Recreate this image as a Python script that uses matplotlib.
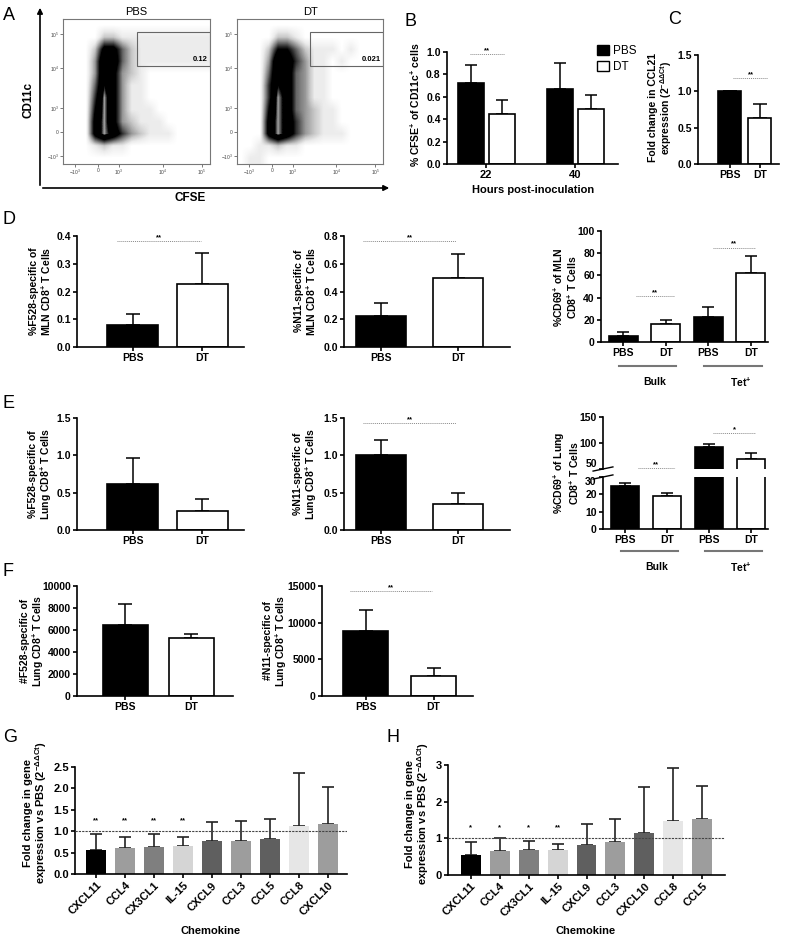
import numpy as np
import matplotlib
matplotlib.use("Agg")
import matplotlib.pyplot as plt
from matplotlib.colors import LinearSegmentedColormap
from matplotlib.patches import Rectangle, Patch, FancyArrowPatch
from matplotlib.ticker import FormatStrFormatter

# ---------------- data ----------------
groups = ["PBS", "DT"]

# A: flow density (rows top->bottom, cols left->right, 0 empty .. 10 contour core)
flow_pbs = [
    [0, 0, 0, 0, 0, 0, 0, 0, 0, 0, 0, 0, 0, 0, 0, 0],
    [0, 0, 0, 0, 2, 2, 1, 1, 1, 1, 1, 1, 1, 1, 1, 1],
    [0, 0, 0, 2, 7, 7, 4, 2, 1, 1, 1, 1, 1, 1, 1, 1],
    [0, 0, 0, 3, 9, 8, 4, 2, 1, 1, 1, 1, 1, 1, 1, 1],
    [0, 0, 0, 3, 9, 7, 3, 2, 1, 0, 0, 0, 0, 0, 0, 0],
    [0, 0, 0, 4, 9, 7, 3, 1, 1, 0, 0, 0, 0, 0, 0, 0],
    [0, 0, 0, 5, 10, 7, 3, 1, 1, 0, 0, 0, 0, 0, 0, 0],
    [0, 0, 0, 6, 10, 7, 3, 1, 1, 1, 0, 0, 0, 0, 0, 0],
    [0, 0, 0, 7, 10, 7, 3, 2, 1, 1, 1, 0, 0, 0, 0, 0],
    [0, 0, 0, 7, 10, 8, 5, 3, 2, 1, 1, 1, 0, 0, 0, 0],
    [0, 0, 0, 1, 2, 1, 1, 0, 0, 0, 0, 0, 0, 0, 0, 0],
    [0, 0, 0, 0, 0, 0, 0, 0, 0, 0, 0, 0, 0, 0, 0, 0],
]
flow_dt = [
    [0, 0, 0, 0, 0, 0, 0, 0, 0, 0, 0, 0, 0, 0, 0, 0],
    [0, 0, 0, 0, 2, 2, 1, 0, 0, 0, 0, 0, 0, 0, 0, 0],
    [0, 0, 0, 2, 6, 6, 4, 2, 1, 1, 1, 0, 1, 0, 0, 0],
    [0, 0, 0, 3, 9, 8, 5, 3, 1, 1, 0, 1, 0, 0, 0, 0],
    [0, 0, 0, 4, 9, 8, 4, 3, 1, 1, 0, 0, 0, 0, 0, 0],
    [0, 0, 0, 5, 9, 8, 4, 3, 1, 1, 0, 0, 0, 0, 0, 0],
    [0, 0, 0, 5, 10, 8, 4, 3, 1, 1, 0, 0, 0, 0, 0, 0],
    [0, 0, 0, 6, 10, 8, 4, 3, 2, 1, 1, 0, 0, 0, 0, 0],
    [0, 0, 0, 7, 10, 8, 5, 3, 2, 1, 1, 0, 0, 0, 0, 0],
    [0, 0, 0, 7, 10, 8, 5, 3, 2, 1, 1, 1, 0, 0, 0, 0],
    [0, 0, 1, 1, 2, 1, 1, 0, 0, 0, 0, 0, 0, 0, 0, 0],
    [0, 1, 1, 0, 0, 0, 0, 0, 0, 0, 0, 0, 0, 0, 0, 0],
]
gate_pct = ["0.12", "0.021"]
flow_x_labels = ["$-10^3$", "0", "$10^3$", "$10^4$", "$10^5$"]
flow_y_labels = ["$-10^3$", "0", "$10^3$", "$10^4$", "$10^5$"]

# B
b_hours = ["22", "40"]
b_pbs = [0.72, 0.67]
b_pbs_sem = [0.16, 0.23]
b_dt = [0.45, 0.49]
b_dt_sem = [0.12, 0.13]

# C
c_vals = [1.0, 0.63]
c_sem = [0.0, 0.20]

# D (MLN)
d_f528 = [0.078, 0.226]
d_f528_sem = [0.040, 0.112]
d_n11 = [0.22, 0.50]
d_n11_sem = [0.095, 0.17]
cd69_labels = ["PBS", "DT", "PBS", "DT"]
d_cd69 = [5.7, 16.4, 22.4, 61.8]
d_cd69_sem = [3.0, 3.0, 8.8, 15.5]

# E (lung)
e_f528 = [0.61, 0.26]
e_f528_sem = [0.35, 0.15]
e_n11 = [1.01, 0.35]
e_n11_sem = [0.20, 0.14]
e_cd69 = [24.7, 19.1, 92.0, 69.0]
e_cd69_sem = [1.9, 1.9, 6.0, 12.0]

# F (lung numbers)
f_f528 = [6430, 5230]
f_f528_sem = [1900, 450]
f_n11 = [8840, 2720]
f_n11_sem = [2850, 1040]

# G / H chemokines
g_genes = ["CXCL11", "CCL4", "CX3CL1", "IL-15", "CXCL9", "CCL3", "CCL5", "CCL8", "CXCL10"]
g_vals = [0.55, 0.60, 0.62, 0.65, 0.77, 0.78, 0.81, 1.12, 1.16]
g_sem = [0.38, 0.27, 0.31, 0.22, 0.44, 0.46, 0.47, 1.25, 0.88]
g_sig = ["**", "**", "**", "**", "", "", "", "", ""]

h_genes = ["CXCL11", "CCL4", "CX3CL1", "IL-15", "CXCL9", "CCL3", "CXCL10", "CCL8", "CCL5"]
h_vals = [0.55, 0.65, 0.68, 0.68, 0.82, 0.91, 1.14, 1.47, 1.52]
h_sem = [0.35, 0.37, 0.25, 0.16, 0.56, 0.61, 1.27, 1.46, 0.91]
h_sig = ["*", "*", "*", "**", "", "", "", "", ""]

gene_colors = ["#000000", "#9d9d9d", "#7f7f7f", "#d5d5d5", "#5f5f5f",
               "#9d9d9d", "#5f5f5f", "#e6e6e6", "#9d9d9d"]

# ---------------- style ----------------
plt.rcParams["font.family"] = ["Liberation Sans", "DejaVu Sans"]
plt.rcParams["font.weight"] = "bold"
plt.rcParams["axes.labelweight"] = "bold"
plt.rcParams["mathtext.default"] = "regular"

W, H = 800, 943
fig = plt.figure(figsize=(8, 9.43), dpi=100)


def add_ax(left, top, right, bottom):
    return fig.add_axes([left / W, 1 - bottom / H, (right - left) / W, (bottom - top) / H])


def fxy(x, y):
    return (x / W, 1 - y / H)


def prism(ax, size=7.5):
    for s in ["top", "right"]:
        ax.spines[s].set_visible(False)
    for s in ["left", "bottom"]:
        ax.spines[s].set_linewidth(1.2)
    ax.tick_params(width=1.2, length=3, labelsize=size, pad=1.5)


def bars(ax, pos, vals, sems, colors, width, cap):
    ax.bar(pos, vals, width, color=colors, edgecolor="black", linewidth=1.2, zorder=2)
    ax.errorbar(pos, vals, yerr=[np.zeros(len(vals)), sems], fmt="none", ecolor="black",
                elinewidth=1.1, capsize=cap, capthick=1.1, zorder=1)


def sig(ax, x0, x1, y, text, size=5.5):
    ax.plot([x0, x1], [y, y], ls=(0, (1, 1)), color="#8a8a8a", lw=0.7, clip_on=False)
    ax.text((x0 + x1) / 2, y, text, ha="center", va="bottom", fontsize=size, clip_on=False)


def ylab(ax, text, x, y, size=7.5):
    ax.set_ylabel(text, fontsize=size, va="center", ha="center", linespacing=1.05)
    ax.yaxis.set_label_coords(x / W, 1 - y / H, transform=fig.transFigure)


def letter(s, x, y):
    fig.text(x / W, 1 - y / H, s, fontsize=13, fontweight="normal", va="center", ha="left")


def pair(ax, vals, sems, geom, ylim, yticks, fmt, sig_y=None, sig_text="**"):
    width, x0, x1 = geom
    pos = np.arange(len(vals))
    bars(ax, pos, vals, sems, ["black", "white"], width, 5.2)
    ax.set_xlim(x0, x1)
    ax.set_ylim(*ylim)
    ax.set_yticks(yticks)
    ax.yaxis.set_major_formatter(FormatStrFormatter(fmt))
    ax.set_xticks(pos)
    ax.set_xticklabels(groups)
    prism(ax)
    if sig_y is not None:
        sig(ax, pos[0] - 0.23, pos[1] - 0.02, sig_y, sig_text)
    return pos


# ---------------- A: flow plots ----------------
flow_cmap = LinearSegmentedColormap.from_list(
    "flow", [(0, "white"), (0.1, "#ececec"), (0.2, "#c8c8c8"), (0.35, "#808080"),
             (0.5, "#303030"), (0.6, "black"), (0.9, "black"), (1.0, "#a0a0a0")])
flow_x_pos = [0.082, 0.238, 0.381, 0.68, 0.946]
flow_y_pos = [0.055, 0.221, 0.386, 0.662, 0.897]

for name, grid, pct, (l, r) in [("PBS", flow_pbs, gate_pct[0], (63, 210)),
                                ("DT", flow_dt, gate_pct[1], (237, 383))]:
    ax = add_ax(l, 19, r, 164)
    ax.imshow(np.array(grid, dtype=float), cmap=flow_cmap, vmin=0, vmax=10,
              extent=(0, 1, 0, 1), origin="upper", aspect="auto", interpolation="bilinear")
    ax.set_xlim(0, 1)
    ax.set_ylim(0, 1)
    ax.add_patch(Rectangle((0.5, 0.676), 0.5, 0.234, fill=False, ec="#666666", lw=0.8))
    ax.text(0.985, 0.695, pct, ha="right", va="bottom", fontsize=5.5)
    ax.set_title(name, fontsize=8, pad=3)
    ax.set_xticks(flow_x_pos)
    ax.set_xticklabels(flow_x_labels)
    ax.set_yticks(flow_y_pos)
    ax.set_yticklabels(flow_y_labels)
    ax.tick_params(length=2, width=0.5, labelsize=3.5, pad=1, colors="#444444")
    for lab in ax.get_xticklabels() + ax.get_yticklabels():
        lab.set_fontweight("normal")
    for s in ax.spines.values():
        s.set_color("#777777")
        s.set_linewidth(0.8)

fig.add_artist(FancyArrowPatch(fxy(40, 188), fxy(40, 5), transform=fig.transFigure,
                               arrowstyle="-|>", mutation_scale=8, lw=1.2, color="black"))
fig.add_artist(FancyArrowPatch(fxy(40, 188), fxy(392, 188), transform=fig.transFigure,
                               arrowstyle="-|>", mutation_scale=8, lw=1.2, color="black"))
fig.text(28 / W, 1 - 100 / H, "CD11c", rotation=90, fontsize=8.5, ha="center", va="center")
fig.text(190 / W, 1 - 198 / H, "CFSE", fontsize=8.5, ha="center", va="center")

# ---------------- B ----------------
ax = add_ax(447, 52, 618, 164)
centers = np.arange(len(b_hours))
bars(ax, centers - 0.175, b_pbs, b_pbs_sem, "black", 0.29, 4.5)
bars(ax, centers + 0.175, b_dt, b_dt_sem, "white", 0.29, 4.5)
ax.set_xlim(-0.44, 1.48)
ax.set_ylim(0, 1.0)
ax.set_yticks(np.arange(0, 1.01, 0.2))
ax.yaxis.set_major_formatter(FormatStrFormatter("%.1f"))
ax.set_xticks(centers)
ax.set_xticklabels(b_hours)
prism(ax)
ax.tick_params(axis="x", labelsize=8)
sig(ax, centers[0] - 0.18, centers[0] + 0.2, 0.98, "**")
ax.set_xlabel("Hours post-inoculation", fontsize=8, va="center")
ax.xaxis.set_label_coords(533 / W, 1 - 190 / H, transform=fig.transFigure)
ylab(ax, "% CFSE$^{+}$ of CD11c$^{+}$ cells", 415, 105)
ax.legend(handles=[Patch(fc="black", ec="black", label="PBS"),
                   Patch(fc="white", ec="black", label="DT")],
          loc="upper left", bbox_to_anchor=fxy(592, 40), bbox_transform=fig.transFigure,
          frameon=False, prop={"size": 8.5, "weight": "normal"}, handlelength=1.0,
          handleheight=1.0, handletextpad=0.4, labelspacing=0.3, borderaxespad=0)

# ---------------- C ----------------
ax = add_ax(698, 55, 779, 164)
pos = np.arange(len(c_vals))
bars(ax, pos, c_vals, c_sem, ["black", "white"], 0.77, 4.8)
ax.set_xlim(-1.05, 1.64)
ax.set_ylim(0, 1.5)
ax.set_yticks([0, 0.5, 1.0, 1.5])
ax.yaxis.set_major_formatter(FormatStrFormatter("%.1f"))
ax.set_xticks(pos)
ax.set_xticklabels(groups)
prism(ax)
sig(ax, pos[0] + 0.12, pos[1] + 0.28, 1.18, "**")
ylab(ax, "Fold change in CCL21\nexpression (2$^{-\\Delta\\Delta Ct}$)", 661, 108)


# ---------------- CD69 helper ----------------
def cd69_axes(ax, vals, sems):
    pos = np.arange(len(vals))
    bars(ax, pos, vals, sems, ["black", "white", "black", "white"], 0.68, 4.3)
    ax.set_xlim(-0.52, 3.40)
    ax.set_xticks(pos)
    ax.set_xticklabels(cd69_labels)
    prism(ax)
    return pos


def group_lines(ax, pos, y_axes, y_text):
    tr = ax.get_xaxis_transform()
    for (a, b), lab in [((pos[0], pos[1]), "Bulk"), ((pos[2], pos[3]), "Tet$^{+}$")]:
        ax.plot([a - 0.1, b + 0.25], [y_axes, y_axes], color="#777777", lw=1.5,
                transform=tr, clip_on=False)
        ax.text((a + b) / 2 + 0.25, y_text, lab, transform=tr, ha="center", va="center",
                fontsize=7.5)


col1 = (0.73, -0.80, 1.60)
col2 = (0.66, -0.48, 1.675)

# ---------------- D ----------------
ax = add_ax(77, 236, 244, 347)
pair(ax, d_f528, d_f528_sem, col1, (0, 0.4), np.arange(0, 0.41, 0.1), "%.1f", 0.382)
ylab(ax, "%F528-specific of\nMLN CD8$^{+}$ T Cells", 41, 291)

ax = add_ax(344, 236, 510, 347)
pair(ax, d_n11, d_n11_sem, col2, (0, 0.8), np.arange(0, 0.81, 0.2), "%.1f", 0.764)
ylab(ax, "%N11-specific of\nMLN CD8$^{+}$ T Cells", 306, 291)

ax = add_ax(601, 231, 768, 342)
pos = cd69_axes(ax, d_cd69, d_cd69_sem)
ax.set_ylim(0, 100)
ax.set_yticks(np.arange(0, 101, 20))
sig(ax, pos[0] + 0.3, pos[1] + 0.2, 41, "**")
sig(ax, pos[2] + 0.1, pos[3] + 0.1, 85, "**")
group_lines(ax, pos, (342 - 366) / 111, (342 - 382) / 111)
ylab(ax, "%CD69$^{+}$ of MLN\nCD8$^{+}$ T Cells", 565, 287)

# ---------------- E ----------------
ax = add_ax(77, 418, 244, 530)
pair(ax, e_f528, e_f528_sem, col1, (0, 1.5), [0, 0.5, 1.0, 1.5], "%.1f")
ylab(ax, "%F528-specific of\nLung CD8$^{+}$ T Cells", 41, 474)

ax = add_ax(344, 418, 510, 530)
pair(ax, e_n11, e_n11_sem, col2, (0, 1.5), [0, 0.5, 1.0, 1.5], "%.1f", 1.43)
ylab(ax, "%N11-specific of\nLung CD8$^{+}$ T Cells", 306, 474)

ax_lo = add_ax(603, 477, 768, 529)
pos = cd69_axes(ax_lo, e_cd69, e_cd69_sem)
ax_lo.set_ylim(0, 30)
ax_lo.set_yticks([0, 10, 20, 30])
ax_lo.get_yticklabels()[-1].set_va("top")
ax_hi = add_ax(603, 417, 768, 469)
bars(ax_hi, pos, e_cd69, e_cd69_sem, ["black", "white", "black", "white"], 0.68, 4.3)
ax_hi.set_xlim(-0.52, 3.40)
ax_hi.set_ylim(50, 150)
ax_hi.set_yticks([50, 100, 150])
prism(ax_hi)
ax_hi.get_yticklabels()[0].set_va("bottom")
ax_hi.spines["bottom"].set_visible(False)
ax_hi.set_xticks([])
for a, yy in [(ax_hi, 0.0), (ax_lo, 1.0)]:
    a.plot([-0.06, 0.06], [yy - 0.04, yy + 0.04], transform=a.transAxes, color="black",
           lw=1.0, clip_on=False)
sig(ax_hi, pos[0] + 0.3, pos[1] + 0.2, 51, "**")
sig(ax_hi, pos[2] + 0.1, pos[3] + 0.1, 119, "*")
group_lines(ax_lo, pos, (529 - 551) / 52, (529 - 567) / 52)
ylab(ax_lo, "%CD69$^{+}$ of Lung\nCD8$^{+}$ T Cells", 566, 473)

# ---------------- F ----------------
ax = add_ax(77, 586, 233, 696)
pair(ax, f_f528, f_f528_sem, (0.68, -0.73, 1.63), (0, 10000), np.arange(0, 10001, 2000), "%d")
ylab(ax, "#F528-specific of\nLung CD8$^{+}$ T Cells", 33, 641)

ax = add_ax(322, 586, 473, 696)
pair(ax, f_n11, f_n11_sem, (0.66, -0.64, 1.58), (0, 15000), [0, 5000, 10000, 15000], "%d",
     14300)
ylab(ax, "#N11-specific of\nLung CD8$^{+}$ T Cells", 276, 641)


# ---------------- G / H ----------------
def gene_panel(ax, genes, vals, sems, stars, ylim, yticks, fmt, star_y, lab_x):
    pos = np.arange(len(genes))
    ax.bar(pos, vals, 0.69, color=gene_colors, zorder=2)
    ax.errorbar(pos, vals, yerr=[np.zeros(len(vals)), sems], fmt="none", ecolor="#222222",
                elinewidth=1.2, capsize=4.3, capthick=1.2, zorder=1)
    ax.axhline(1.0, ls=(0, (2, 1)), color="#444444", lw=0.8, zorder=3)
    for p, s in zip(pos, stars):
        if s:
            ax.text(p, star_y, s, ha="center", va="center", fontsize=5.5)
    ax.set_ylim(*ylim)
    ax.set_yticks(yticks)
    ax.yaxis.set_major_formatter(FormatStrFormatter(fmt))
    ax.set_xticks(pos)
    ax.set_xticklabels(genes, rotation=45, ha="right", rotation_mode="anchor")
    prism(ax, 8)
    ax.set_xlabel("Chemokine", fontsize=8, va="center")
    ax.xaxis.set_label_coords(lab_x / W, 1 - 931 / H, transform=fig.transFigure)
    return pos


ax = add_ax(75, 767, 347, 874)
gene_panel(ax, g_genes, g_vals, g_sem, g_sig, (0, 2.5), np.arange(0, 2.51, 0.5), "%.1f",
           1.24, 211)
ax.set_xlim(-0.72, 8.66)
ylab(ax, "Fold change in gene\nexpression vs PBS (2$^{-\\Delta\\Delta Ct}$)", 36, 813, 8)

ax = add_ax(448, 765, 725, 875)
gene_panel(ax, h_genes, h_vals, h_sem, h_sig, (0, 3), [0, 1, 2, 3], "%d", 1.3, 586)
ax.set_xlim(-0.78, 8.78)
ylab(ax, "Fold change in gene\nexpression vs PBS (2$^{-\\Delta\\Delta Ct}$)", 418, 814, 8)

# ---------------- panel letters ----------------
letter("A", 3, 16)
letter("B", 405, 21)
letter("C", 668, 20)
letter("D", 3, 220)
letter("E", 3, 404)
letter("F", 3, 571)
letter("G", 3, 738)
letter("H", 387, 738)

fig.savefig("out.png", dpi=100)
